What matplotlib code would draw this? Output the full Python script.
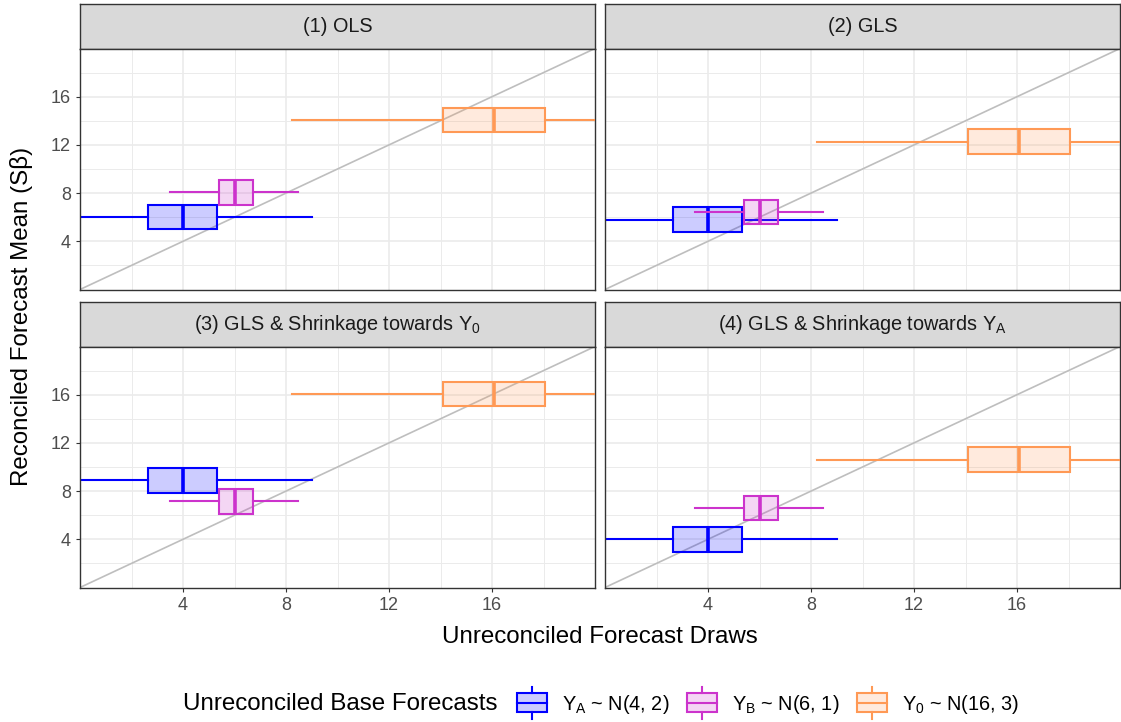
import matplotlib
matplotlib.use('Agg')
import matplotlib.pyplot as plt
from matplotlib.patches import Patch, Rectangle
from matplotlib.lines import Line2D
from matplotlib.legend_handler import HandlerBase

plt.rcParams['font.family'] = ['Liberation Sans', 'DejaVu Sans']

W, H = 1121, 722

panel_titles = ['(1) OLS', '(2) GLS',
                r'(3) GLS & Shrinkage towards $\mathregular{Y_0}$',
                r'(4) GLS & Shrinkage towards $\mathregular{Y_A}$']
series_labels = [r'$\mathregular{Y_A}$ ~ N(4, 2)',
                 r'$\mathregular{Y_B}$ ~ N(6, 1)',
                 r'$\mathregular{Y_0}$ ~ N(16, 3)']
colors = ['#0000FF', '#CC33CC', '#FF9955']

# unreconciled draws (same in every panel): A, B, 0
whis_lo = [-1.2, 3.48, 8.23]
q1 = [2.64, 5.39, 14.08]
med = [4.0, 6.03, 16.07]
q3 = [5.33, 6.72, 18.06]
whis_hi = [9.0, 8.45, 23.5]

# reconciled means per panel: A, B, 0
recon_ols = [6.0, 8.05, 14.08]
recon_gls = [5.8, 6.44, 12.26]
recon_shr0 = [8.9, 7.15, 16.05]
recon_shrA = [4.0, 6.6, 10.6]
recon = [recon_ols, recon_gls, recon_shr0, recon_shrA]

ticks = [4, 8, 12, 16]
minor = [2, 6, 10, 14, 18]

fig = plt.figure(figsize=(W / 100, H / 100), dpi=100)


def px_axes(x, y_top, w, h):
    return fig.add_axes([x / W, 1 - (y_top + h) / H, w / W, h / H])


col_x = [80, 605]
col_w = 515
strip_top = [4, 302]
strip_h = 44.5
plot_h = 241

for k in range(4):
    r, c = divmod(k, 2)
    st = px_axes(col_x[c], strip_top[r], col_w, strip_h)
    st.set_facecolor('#D9D9D9')
    st.set_xticks([])
    st.set_yticks([])
    for s in st.spines.values():
        s.set_color('#333333')
        s.set_linewidth(1.0)
    st.text(0.5, 0.5, panel_titles[k], ha='center', va='center',
            fontsize=14.3, color='#1A1A1A', transform=st.transAxes)

    ax = px_axes(col_x[c], strip_top[r] + strip_h, col_w, plot_h)
    ax.set_xlim(0, 20)
    ax.set_ylim(0, 20)
    ax.set_xticks(ticks)
    ax.set_yticks(ticks)
    ax.set_xticks(minor, minor=True)
    ax.set_yticks(minor, minor=True)
    ax.grid(which='major', color='#EBEBEB', linewidth=1.2)
    ax.grid(which='minor', color='#EBEBEB', linewidth=0.7)
    ax.set_axisbelow(True)
    ax.tick_params(which='minor', length=0)
    ax.tick_params(which='major', length=3, width=0.8, color='#333333',
                   labelcolor='#4D4D4D', labelsize=13, pad=3.5)
    if r == 0:
        ax.tick_params(axis='x', which='major', length=0, labelbottom=False)
    if c == 1:
        ax.tick_params(axis='y', which='major', length=0, labelleft=False)
    for s in ax.spines.values():
        s.set_color('#333333')
        s.set_linewidth(1.0)

    ax.plot([0, 20], [0, 20], color='#BEBEBE', linewidth=1.2, zorder=1)

    for i in range(3):
        stats = [dict(whislo=whis_lo[i], q1=q1[i], med=med[i], q3=q3[i],
                      whishi=whis_hi[i], fliers=[])]
        ax.bxp(stats, positions=[recon[k][i]], widths=[2.04],
               orientation='horizontal', patch_artist=True,
               showcaps=False, showfliers=False, manage_ticks=False,
               boxprops=dict(facecolor=colors[i] + '33', edgecolor=colors[i],
                             linewidth=1.5),
               medianprops=dict(color=colors[i], linewidth=2.6,
                                solid_capstyle='butt'),
               whiskerprops=dict(color=colors[i], linewidth=1.5),
               zorder=2 + i)

fig.text(599.5 / W, 1 - 643 / H, 'Unreconciled Forecast Draws',
         ha='center', va='baseline', fontsize=17.4, color='black')
fig.text(28 / W, 1 - 316 / H, 'Reconciled Forecast Mean (Sβ)',
         ha='center', va='baseline', rotation=90, rotation_mode='anchor',
         fontsize=17.4, color='black')


class BoxKey(HandlerBase):
    def create_artists(self, legend, orig_handle, xdescent, ydescent,
                       width, height, fontsize, trans):
        col = orig_handle.get_edgecolor()
        cy = height / 2 - ydescent
        bh = 13.7
        wh = 23.0
        x0 = -xdescent
        box = Rectangle((x0, cy - bh / 2), width, bh,
                        facecolor=orig_handle.get_facecolor(),
                        edgecolor=col, linewidth=1.5, transform=trans)
        mid = Line2D([x0, x0 + width], [cy, cy], color=col,
                     linewidth=1.5, transform=trans)
        w1 = Line2D([x0 + width / 2] * 2, [cy + bh / 2, cy + wh / 2],
                    color=col, linewidth=1.5, transform=trans)
        w2 = Line2D([x0 + width / 2] * 2, [cy - bh / 2, cy - wh / 2],
                    color=col, linewidth=1.5, transform=trans)
        return [w1, w2, box, mid]


handles = [Patch(facecolor=c + '33', edgecolor=c) for c in colors]
fig.text(183 / W, 1 - 704 / H, 'Unreconciled Base Forecasts',
         ha='left', va='center', fontsize=17.4, color='black')
fig.legend(handles, series_labels, handler_map={Patch: BoxKey()},
           loc='center left', bbox_to_anchor=(517 / W, 1 - 704 / H),
           ncol=3, frameon=False, fontsize=14.3, borderpad=0,
           borderaxespad=0, handlelength=1.5, handletextpad=0.75,
           columnspacing=0.9)

fig.savefig('out.png', dpi=100)
